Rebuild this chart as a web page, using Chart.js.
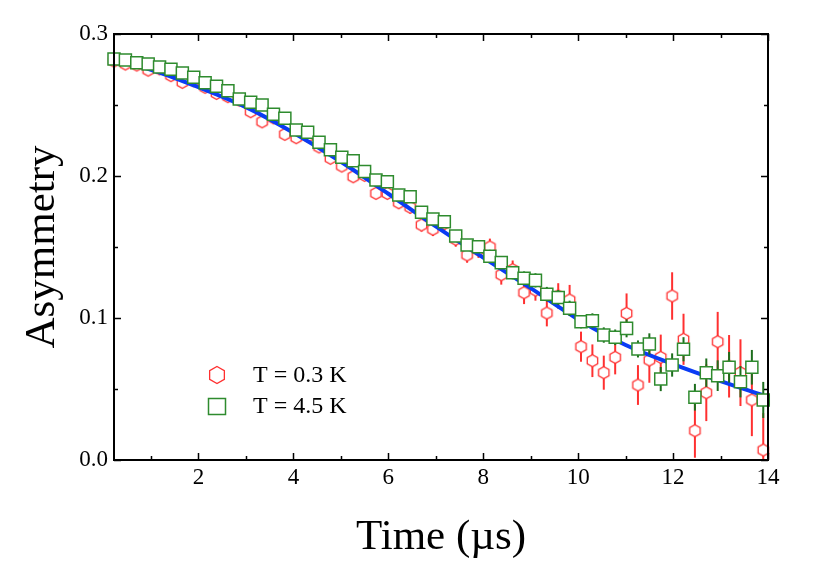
<!DOCTYPE html>
<html><head><meta charset="utf-8">
<script src="https://cdn.jsdelivr.net/npm/chart.js@4.4.1/dist/chart.umd.min.js"></script>
<style>html,body{margin:0;padding:0;background:#fff;}#wrap{width:830px;height:564px;}</style>
</head><body><div id="wrap"><canvas id="c" width="830" height="564"></canvas></div>
<script>
const timeUs = [0.22,0.46,0.70,0.94,1.18,1.42,1.66,1.90,2.14,2.38,2.62,2.86,3.10,3.34,3.58,3.82,4.06,4.30,4.54,4.78,5.02,5.26,5.50,5.74,5.98,6.22,6.46,6.70,6.94,7.18,7.42,7.66,7.90,8.14,8.38,8.62,8.86,9.10,9.34,9.58,9.82,10.06,10.30,10.54,10.78,11.02,11.26,11.50,11.74,11.98,12.22,12.46,12.70,12.94,13.18,13.42,13.66,13.90];
const asymT03 = [0.2810,0.2789,0.2782,0.2746,0.2755,0.2707,0.2660,0.2671,0.2625,0.2582,0.2559,0.2535,0.2453,0.2382,0.2410,0.2294,0.2270,0.2280,0.2205,0.2125,0.2070,0.1995,0.2005,0.1878,0.1878,0.1812,0.1780,0.1655,0.1625,0.1665,0.1555,0.1444,0.1480,0.1500,0.1305,0.1340,0.1178,0.1197,0.1035,0.1155,0.1127,0.0798,0.0699,0.0615,0.0723,0.1033,0.0528,0.0704,0.0723,0.1155,0.0850,0.0206,0.0474,0.0833,0.0660,0.0615,0.0423,0.0070];
const errT03 = [0.0015,0.0015,0.0016,0.0016,0.0017,0.0017,0.0018,0.0018,0.0019,0.0020,0.0021,0.0022,0.0023,0.0024,0.0025,0.0026,0.0027,0.0028,0.0030,0.0031,0.0033,0.0034,0.0036,0.0038,0.0040,0.0042,0.0044,0.0046,0.0048,0.0051,0.0053,0.0055,0.0057,0.0059,0.0070,0.0065,0.0080,0.0075,0.0094,0.0090,0.0106,0.0106,0.0115,0.0120,0.0120,0.0140,0.0140,0.0160,0.0160,0.0167,0.0180,0.0190,0.0200,0.0210,0.0220,0.0235,0.0255,0.0260];
const asymT45 = [0.2824,0.2817,0.2798,0.2789,0.2768,0.2751,0.2725,0.2695,0.2657,0.2632,0.2600,0.2542,0.2519,0.2500,0.2435,0.2406,0.2324,0.2308,0.2237,0.2185,0.2132,0.2108,0.2031,0.1972,0.1960,0.1866,0.1854,0.1744,0.1697,0.1678,0.1577,0.1514,0.1502,0.1435,0.1390,0.1319,0.1280,0.1265,0.1168,0.1145,0.1068,0.0974,0.0981,0.0880,0.0864,0.0927,0.0782,0.0817,0.0570,0.0669,0.0780,0.0442,0.0615,0.0594,0.0653,0.0551,0.0653,0.0423];
const errT45 = [0.0010,0.0010,0.0010,0.0011,0.0011,0.0011,0.0012,0.0012,0.0013,0.0013,0.0014,0.0014,0.0015,0.0015,0.0016,0.0017,0.0017,0.0018,0.0019,0.0020,0.0021,0.0022,0.0023,0.0024,0.0025,0.0026,0.0027,0.0028,0.0030,0.0031,0.0040,0.0042,0.0043,0.0045,0.0046,0.0047,0.0048,0.0050,0.0051,0.0052,0.0054,0.0047,0.0052,0.0054,0.0055,0.0063,0.0060,0.0075,0.0085,0.0082,0.0085,0.0094,0.0100,0.0108,0.0108,0.0110,0.0122,0.0127];
const fitTime = [0.22,1,2,3,4,5,6,7,8,9,10,11,12,13,13.9];
const fitAsym = [0.2812,0.2748,0.2625,0.2485,0.2305,0.2100,0.1875,0.1645,0.1425,0.1210,0.0990,0.0810,0.0675,0.0555,0.0455];
const xTickValues = [2,4,6,8,10,12,14];
const xMinorTicks = [1,3,5,7,9,11,13];
const yTickValues = [0,0.1,0.2,0.3];
const yMinorTicks = [0.05,0.15,0.25];
const seriesLabels = ['T = 0.3 K','T = 4.5 K'];
const xTitle = 'Time (\u00B5s)';
const yTitle = 'Asymmetry';

const RED = '#ff3030', GREEN = '#2e8b2e', GREEN_BAR = '#1d6e1d', BLUE = '#0a3cf5';
const SERIF = '"Liberation Serif","Times New Roman",serif';

function makeHex(h, color, lw) {
  const R = h / 2, w = Math.sqrt(3) * R;
  const cv = document.createElement('canvas');
  cv.width = Math.ceil(w + lw * 2 + 2); cv.height = Math.ceil(h + lw * 2 + 2);
  const c = cv.getContext('2d');
  const cx = cv.width / 2, cy = cv.height / 2;
  c.beginPath();
  for (let k = 0; k < 6; k++) {
    const a = -Math.PI / 2 + k * Math.PI / 3;
    const px = cx + R * Math.cos(a), py = cy + R * Math.sin(a);
    k ? c.lineTo(px, py) : c.moveTo(px, py);
  }
  c.closePath();
  c.fillStyle = '#fff'; c.fill();
  c.strokeStyle = color; c.lineWidth = lw; c.stroke();
  return cv;
}
const hexPoint = makeHex(12, RED, 1.3);
const hexLegend = makeHex(17, RED, 1.3);

const errorBars = {
  id: 'errorBars',
  beforeDatasetDraw(chart, args) {
    const ds = chart.data.datasets[args.index];
    if (!ds.errors) return;
    const ctx = chart.ctx, ys = chart.scales.y, a = chart.chartArea;
    ctx.save();
    ctx.beginPath(); ctx.rect(a.left - 10, a.top, a.right - a.left + 20, a.bottom - a.top); ctx.clip();
    ctx.strokeStyle = ds.errorColor; ctx.lineWidth = 2;
    args.meta.data.forEach((p, i) => {
      const v = ds.data[i].y, e = ds.errors[i];
      ctx.beginPath();
      ctx.moveTo(p.x, ys.getPixelForValue(v - e));
      ctx.lineTo(p.x, ys.getPixelForValue(v + e));
      ctx.stroke();
    });
    ctx.restore();
  }
};

const frame = {
  id: 'frame',
  afterDatasetsDraw(chart) {
    const ctx = chart.ctx, a = chart.chartArea, xs = chart.scales.x, ys = chart.scales.y;
    ctx.save();
    ctx.strokeStyle = '#000'; ctx.lineWidth = 1.5;
    const tick = (vals, len) => {
      vals.forEach(v => {
        const px = Math.round(xs.getPixelForValue(v)) + 0.5;
        ctx.beginPath();
        ctx.moveTo(px, a.bottom); ctx.lineTo(px, a.bottom - len);
        ctx.moveTo(px, a.top); ctx.lineTo(px, a.top + len);
        ctx.stroke();
      });
    };
    const ytick = (vals, len) => {
      vals.forEach(v => {
        const py = Math.round(ys.getPixelForValue(v)) + 0.5;
        ctx.beginPath();
        ctx.moveTo(a.left, py); ctx.lineTo(a.left + len, py);
        ctx.moveTo(a.right, py); ctx.lineTo(a.right - len, py);
        ctx.stroke();
      });
    };
    tick(xTickValues, 7); tick(xMinorTicks, 4);
    ytick(yTickValues, 7); ytick(yMinorTicks, 4);
    ctx.lineWidth = 2;
    ctx.strokeRect(a.left, a.top, a.right - a.left, a.bottom - a.top);
    ctx.restore();
  }
};

const legendBox = {
  id: 'legendBox',
  afterDraw(chart) {
    const ctx = chart.ctx;
    ctx.save();
    ctx.drawImage(hexLegend, 217 - hexLegend.width / 2, 375 - hexLegend.height / 2);
    ctx.strokeStyle = GREEN; ctx.lineWidth = 1.5; ctx.fillStyle = '#fff';
    ctx.beginPath(); ctx.rect(208.5, 398.5, 17, 16); ctx.fill(); ctx.stroke();
    ctx.fillStyle = '#000'; ctx.font = '24px ' + SERIF; ctx.textBaseline = 'middle'; ctx.textAlign = 'left';
    ctx.fillText(seriesLabels[0], 253, 376);
    ctx.fillText(seriesLabels[1], 253, 407);
    ctx.restore();
  }
};

const pts = (xs, ys) => xs.map((x, i) => ({x, y: ys[i]}));

new Chart(document.getElementById('c'), {
  type: 'scatter',
  data: {
    datasets: [
      {label: seriesLabels[0], data: pts(timeUs, asymT03), errors: errT03, errorColor: RED,
       pointStyle: hexPoint, order: 3, clip: false},
      {type: 'line', label: 'fit', data: pts(fitTime, fitAsym), borderColor: BLUE, borderWidth: 4,
       pointRadius: 0, cubicInterpolationMode: 'monotone', fill: false, order: 2},
      {label: seriesLabels[1], data: pts(timeUs, asymT45), errors: errT45, errorColor: GREEN_BAR,
       pointStyle: 'rect', pointRadius: 8.5, borderColor: GREEN, backgroundColor: '#fff', borderWidth: 1.5,
       order: 1, clip: false}
    ]
  },
  options: {
    responsive: false, animation: false, devicePixelRatio: 1,
    layout: {padding: {top: 34, right: 62, left: 0, bottom: 0}},
    plugins: {legend: {display: false}, tooltip: {enabled: false}},
    scales: {
      x: {
        type: 'linear', min: 0.22, max: 14,
        afterFit: s => { s.height = 104; },
        afterBuildTicks: s => { s.ticks = xTickValues.map(v => ({value: v})); },
        grid: {display: false, drawTicks: false}, border: {display: false},
        ticks: {color: '#000', font: {family: SERIF, size: 23}, padding: 4, maxRotation: 0, autoSkip: false,
                callback: v => String(v)},
        title: {display: true, text: xTitle, color: '#000', font: {family: SERIF, size: 43}, padding: {top: 0, bottom: 0}}
      },
      y: {
        type: 'linear', min: 0, max: 0.3,
        afterFit: s => { s.width = 114; },
        afterBuildTicks: s => { s.ticks = yTickValues.map(v => ({value: v})); },
        grid: {display: false, drawTicks: false}, border: {display: false},
        ticks: {color: '#000', font: {family: SERIF, size: 23}, padding: 6, autoSkip: false,
                callback: v => Number(v).toFixed(1)},
        title: {display: true, text: yTitle, color: '#000', font: {family: SERIF, size: 43}, padding: {top: 17, bottom: 0}}
      }
    }
  },
  plugins: [errorBars, frame, legendBox]
});
</script>
</body></html>
